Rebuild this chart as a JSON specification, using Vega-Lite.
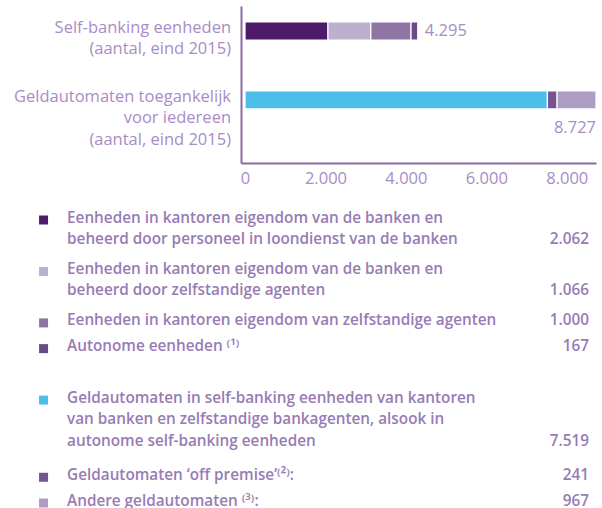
{
  "$schema": "https://vega.github.io/schema/vega-lite/v6.json",
  "padding": {"left": 13, "top": 6, "right": 2, "bottom": 0},
  "spacing": 23,
  "config": {
    "font": "Open Sans",
    "view": {"stroke": null},
    "locale": {"number": {"decimal": ",", "thousands": ".", "grouping": [3], "currency": ["€", ""]}}
  },
  "datasets": {
    "items": [
      {"id": "a", "cat": "sb", "order": 1, "start": 0, "lines": 2, "value": 2062, "label": ["Eenheden in kantoren eigendom van de banken en", "beheerd door personeel in loondienst van de banken"]},
      {"id": "b", "cat": "sb", "order": 2, "start": 2, "lines": 2, "value": 1066, "label": ["Eenheden in kantoren eigendom van de banken en", "beheerd door zelfstandige agenten"]},
      {"id": "c", "cat": "sb", "order": 3, "start": 4, "lines": 1, "value": 1000, "label": ["Eenheden in kantoren eigendom van zelfstandige agenten"]},
      {"id": "d", "cat": "sb", "order": 4, "start": 5, "lines": 1, "value": 167, "label": ["Autonome eenheden ⁽¹⁾"]},
      {"id": "e", "cat": "atm", "order": 1, "start": 7, "lines": 3, "value": 7519, "label": ["Geldautomaten in self-banking eenheden van kantoren", "van banken en zelfstandige bankagenten, alsook in", "autonome self-banking eenheden"]},
      {"id": "f", "cat": "atm", "order": 2, "start": 10, "lines": 1, "value": 241, "label": ["Geldautomaten ‘off premise’⁽²⁾:"]},
      {"id": "g", "cat": "atm", "order": 3, "start": 11, "lines": 1, "value": 967, "label": ["Andere geldautomaten ⁽³⁾:"]}
    ],
    "cats": [
      {"cat": "sb", "label": ["Self-banking eenheden", "(aantal, eind 2015)"]},
      {"cat": "atm", "label": ["Geldautomaten toegankelijk", "voor iedereen ", "(aantal, eind 2015)"]}
    ]
  },
  "resolve": {"scale": {"x": "independent", "y": "independent", "color": "shared"}},
  "vconcat": [
    {
      "width": 355,
      "height": 157,
      "layer": [
        {
          "data": {"name": "items"},
          "mark": {"type": "bar", "stroke": "#ffffff", "strokeWidth": 1.2},
          "encoding": {
            "y": {
              "field": "cat", "type": "nominal",
              "scale": {"domain": ["sb", "atm"], "paddingInner": 0.754, "paddingOuter": 0.515, "align": 0.225},
              "axis": {"labels": false, "ticks": false, "title": null, "domainColor": "#8a6aa3", "domainWidth": 2}
            },
            "x": {
              "field": "value", "type": "quantitative", "stack": "zero",
              "scale": {"domain": [-100, 8727], "nice": false, "zero": false},
              "axis": {"values": [0, 2000, 4000, 6000, 8000], "format": ",d", "ticks": false, "grid": false, "title": null,
                       "domainColor": "#8a6aa3", "domainWidth": 2, "labelColor": "#a98cc6", "labelFontSize": 16.5,
                       "labelPadding": 7, "labelFlush": false, "labelFont": "Open Sans"}
            },
            "order": {"field": "order"},
            "color": {
              "field": "id", "type": "nominal",
              "scale": {"domain": ["a", "b", "c", "d", "e", "f", "g"], "range": ["#4e1a6a", "#bdb0cf", "#8e75a4", "#6a4a88", "#4bbfea", "#76548f", "#ad9cc3"]},
              "legend": null
            }
          }
        },
        {
          "data": {"name": "cats"},
          "mark": {"type": "text", "align": "right", "baseline": "alphabetic", "dx": -14, "dy": 11, "lineHeight": 21.5, "fontSize": 16.5, "color": "#a98cc6"},
          "encoding": {
            "x": {"datum": 0, "type": "quantitative"},
            "y": {"field": "cat", "type": "nominal", "bandPosition": 0},
            "text": {"field": "label"}
          }
        },
        {
          "data": {"name": "items"},
          "transform": [{"aggregate": [{"op": "sum", "field": "value", "as": "total"}], "groupby": ["cat"]}],
          "layer": [
            {
              "transform": [{"filter": "datum.cat === 'sb'"}],
              "mark": {"type": "text", "align": "left", "baseline": "alphabetic", "dx": 7, "dy": 5.5, "fontSize": 16.5, "color": "#a98cc6"},
              "encoding": {
                "x": {"field": "total", "type": "quantitative"},
                "y": {"field": "cat", "type": "nominal"},
                "text": {"field": "total", "type": "quantitative", "format": ",d"}
              }
            },
            {
              "transform": [{"filter": "datum.cat === 'atm'"}],
              "mark": {"type": "text", "align": "right", "baseline": "alphabetic", "dy": 34, "fontSize": 16.5, "color": "#a98cc6"},
              "encoding": {
                "x": {"field": "total", "type": "quantitative"},
                "y": {"field": "cat", "type": "nominal"},
                "text": {"field": "total", "type": "quantitative", "format": ",d"}
              }
            }
          ]
        }
      ]
    },
    {
      "width": 348,
      "height": 283,
      "data": {"name": "items"},
      "encoding": {
        "y": {"field": "start", "type": "ordinal", "scale": {"type": "point", "domain": [0, 1, 2, 3, 4, 5, 6, 7, 8, 9, 10, 11], "padding": 0}, "axis": null}
      },
      "layer": [
        {
          "mark": {"type": "square", "size": 81, "opacity": 1, "filled": true, "yOffset": 3},
          "encoding": {
            "x": {"datum": 0, "type": "quantitative", "scale": {"domain": [0.362, 1], "nice": false, "zero": false}, "axis": null},
            "color": {
              "field": "id", "type": "nominal",
              "scale": {"domain": ["a", "b", "c", "d", "e", "f", "g"], "range": ["#4e1a6a", "#bdb0cf", "#8e75a4", "#6a4a88", "#4bbfea", "#76548f", "#ad9cc3"]},
              "legend": null
            }
          }
        },
        {
          "mark": {"type": "text", "align": "left", "baseline": "alphabetic", "dy": 5.5, "lineHeight": 21.5, "fontSize": 15.3, "fontWeight": 600, "color": "#977cb4"},
          "encoding": {
            "x": {"datum": 0.0431, "type": "quantitative"},
            "text": {"field": "label"}
          }
        },
        {
          "mark": {"type": "text", "align": "right", "baseline": "alphabetic", "dy": 5.5, "fontSize": 15.3, "fontWeight": 600, "color": "#977cb4"},
          "encoding": {
            "x": {"datum": 1, "type": "quantitative"},
            "yOffset": {"field": "lines", "type": "quantitative", "scale": {"domain": [1, 3], "range": [0, 43]}},
            "text": {"field": "value", "type": "quantitative", "format": ",d"}
          }
        }
      ]
    }
  ]
}
